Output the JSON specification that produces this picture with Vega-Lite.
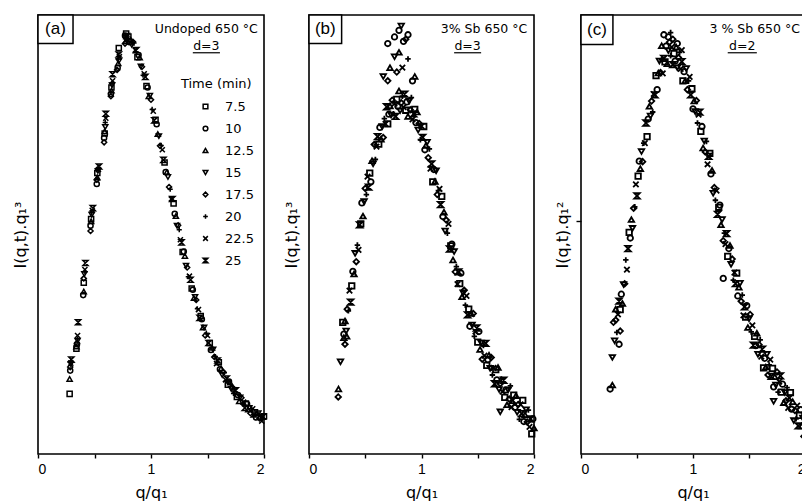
{
"$schema": "https://vega.github.io/schema/vega-lite/v6.json",
"background": "white",
"padding": {"left": 11, "top": 13, "right": 0, "bottom": 0},
"config": {
  "font": "Liberation Sans",
  "view": {"stroke": "black", "strokeWidth": 1.6},
  "concat": {"spacing": 11},
  "axis": {"grid": false, "domain": false, "tickColor": "black", "labelColor": "black", "titleColor": "black", "labelFont": "Liberation Sans", "titleFont": "DejaVu Sans", "titleFontWeight": "normal", "labelFontSize": 14, "titleFontSize": 16, "tickWidth": 1.4}
},
"datasets": {
"a": [
{"t":"7.5","q":0.28,"v":0.137},{"t":"10","q":0.285,"v":0.19},{"t":"12.5","q":0.28,"v":0.171},{"t":"15","q":0.29,"v":0.205},{"t":"17.5","q":0.285,"v":0.198},{"t":"20","q":0.29,"v":0.212},{"t":"22.5","q":0.29,"v":0.207},{"t":"25","q":0.295,"v":0.215},
{"t":"7.5","q":0.34,"v":0.24},{"t":"10","q":0.345,"v":0.25},{"t":"12.5","q":0.34,"v":0.245},{"t":"15","q":0.35,"v":0.258},{"t":"17.5","q":0.345,"v":0.252},{"t":"20","q":0.35,"v":0.262},{"t":"22.5","q":0.35,"v":0.27},{"t":"25","q":0.355,"v":0.3},
{"t":"7.5","q":0.405,"v":0.39},{"t":"10","q":0.4,"v":0.362},{"t":"12.5","q":0.405,"v":0.37},{"t":"15","q":0.41,"v":0.41},{"t":"17.5","q":0.405,"v":0.4},{"t":"20","q":0.415,"v":0.415},{"t":"22.5","q":0.415,"v":0.42},{"t":"25","q":0.42,"v":0.435},
{"t":"7.5","q":0.47,"v":0.535},{"t":"10","q":0.465,"v":0.52},{"t":"12.5","q":0.47,"v":0.53},{"t":"15","q":0.475,"v":0.545},{"t":"17.5","q":0.465,"v":0.508},{"t":"20","q":0.475,"v":0.55},{"t":"22.5","q":0.48,"v":0.555},{"t":"25","q":0.485,"v":0.56},
{"t":"7.5","q":0.525,"v":0.64},{"t":"10","q":0.52,"v":0.615},{"t":"12.5","q":0.525,"v":0.63},{"t":"15","q":0.53,"v":0.645},{"t":"17.5","q":0.52,"v":0.625},{"t":"20","q":0.53,"v":0.65},{"t":"22.5","q":0.535,"v":0.648},{"t":"25","q":0.54,"v":0.655},
{"t":"7.5","q":0.59,"v":0.73},{"t":"10","q":0.585,"v":0.72},{"t":"12.5","q":0.59,"v":0.735},{"t":"15","q":0.595,"v":0.745},{"t":"17.5","q":0.585,"v":0.71},{"t":"20","q":0.595,"v":0.755},{"t":"22.5","q":0.6,"v":0.765},{"t":"25","q":0.6,"v":0.775},
{"t":"7.5","q":0.65,"v":0.835},{"t":"10","q":0.645,"v":0.82},{"t":"12.5","q":0.65,"v":0.828},{"t":"15","q":0.655,"v":0.84},{"t":"17.5","q":0.645,"v":0.815},{"t":"20","q":0.655,"v":0.845},{"t":"22.5","q":0.66,"v":0.85},{"t":"25","q":0.66,"v":0.865},
{"t":"7.5","q":0.715,"v":0.925},{"t":"10","q":0.705,"v":0.88},{"t":"12.5","q":0.71,"v":0.89},{"t":"15","q":0.715,"v":0.895},{"t":"17.5","q":0.7,"v":0.875},{"t":"20","q":0.71,"v":0.9},{"t":"22.5","q":0.72,"v":0.905},{"t":"25","q":0.715,"v":0.91},
{"t":"7.5","q":0.78,"v":0.958},{"t":"10","q":0.77,"v":0.953},{"t":"12.5","q":0.775,"v":0.94},{"t":"15","q":0.78,"v":0.945},{"t":"17.5","q":0.77,"v":0.935},{"t":"20","q":0.775,"v":0.948},{"t":"22.5","q":0.78,"v":0.95},{"t":"25","q":0.785,"v":0.952},
{"t":"7.5","q":0.8,"v":0.951},{"t":"10","q":0.81,"v":0.938},{"t":"12.5","q":0.82,"v":0.944},{"t":"15","q":0.83,"v":0.932},{"t":"17.5","q":0.84,"v":0.939},{"t":"20","q":0.85,"v":0.936},{"t":"22.5","q":0.86,"v":0.92},{"t":"25","q":0.87,"v":0.92},
{"t":"7.5","q":0.88,"v":0.904},{"t":"10","q":0.89,"v":0.909},{"t":"12.5","q":0.9,"v":0.903},{"t":"15","q":0.91,"v":0.883},{"t":"17.5","q":0.92,"v":0.882},{"t":"20","q":0.93,"v":0.863},{"t":"22.5","q":0.94,"v":0.866},{"t":"25","q":0.95,"v":0.859},
{"t":"7.5","q":0.96,"v":0.838},{"t":"10","q":0.97,"v":0.835},{"t":"12.5","q":0.98,"v":0.815},{"t":"15","q":0.99,"v":0.816},{"t":"17.5","q":1.0,"v":0.807},{"t":"20","q":1.01,"v":0.785},{"t":"22.5","q":1.02,"v":0.781},{"t":"25","q":1.03,"v":0.76},
{"t":"7.5","q":1.04,"v":0.761},{"t":"10","q":1.05,"v":0.751},{"t":"12.5","q":1.06,"v":0.729},{"t":"15","q":1.07,"v":0.724},{"t":"17.5","q":1.08,"v":0.702},{"t":"20","q":1.09,"v":0.703},{"t":"22.5","q":1.1,"v":0.693},{"t":"25","q":1.11,"v":0.67},
{"t":"7.5","q":1.12,"v":0.664},{"t":"10","q":1.13,"v":0.642},{"t":"12.5","q":1.14,"v":0.642},{"t":"15","q":1.15,"v":0.631},{"t":"17.5","q":1.16,"v":0.608},{"t":"20","q":1.17,"v":0.603},{"t":"22.5","q":1.18,"v":0.581},{"t":"25","q":1.19,"v":0.581},
{"t":"7.5","q":1.2,"v":0.571},{"t":"10","q":1.21,"v":0.547},{"t":"12.5","q":1.22,"v":0.542},{"t":"15","q":1.23,"v":0.52},{"t":"17.5","q":1.24,"v":0.521},{"t":"20","q":1.25,"v":0.511},{"t":"22.5","q":1.26,"v":0.488},{"t":"25","q":1.27,"v":0.482},
{"t":"7.5","q":1.28,"v":0.46},{"t":"10","q":1.29,"v":0.461},{"t":"12.5","q":1.3,"v":0.451},{"t":"15","q":1.31,"v":0.429},{"t":"17.5","q":1.32,"v":0.425},{"t":"20","q":1.33,"v":0.404},{"t":"22.5","q":1.34,"v":0.405},{"t":"25","q":1.35,"v":0.397},
{"t":"7.5","q":1.36,"v":0.377},{"t":"10","q":1.37,"v":0.374},{"t":"12.5","q":1.38,"v":0.355},{"t":"15","q":1.39,"v":0.358},{"t":"17.5","q":1.4,"v":0.351},{"t":"20","q":1.41,"v":0.331},{"t":"22.5","q":1.42,"v":0.329},{"t":"25","q":1.43,"v":0.31},
{"t":"7.5","q":1.44,"v":0.314},{"t":"10","q":1.45,"v":0.307},{"t":"12.5","q":1.46,"v":0.288},{"t":"15","q":1.47,"v":0.288},{"t":"17.5","q":1.48,"v":0.27},{"t":"20","q":1.49,"v":0.275},{"t":"22.5","q":1.5,"v":0.27},{"t":"25","q":1.51,"v":0.253},
{"t":"7.5","q":1.52,"v":0.253},{"t":"10","q":1.53,"v":0.237},{"t":"12.5","q":1.54,"v":0.242},{"t":"15","q":1.55,"v":0.238},{"t":"17.5","q":1.56,"v":0.221},{"t":"20","q":1.57,"v":0.222},{"t":"22.5","q":1.58,"v":0.206},{"t":"25","q":1.59,"v":0.213},
{"t":"7.5","q":1.6,"v":0.209},{"t":"10","q":1.61,"v":0.193},{"t":"12.5","q":1.62,"v":0.195},{"t":"15","q":1.63,"v":0.18},{"t":"17.5","q":1.64,"v":0.187},{"t":"20","q":1.65,"v":0.185},{"t":"22.5","q":1.66,"v":0.169},{"t":"25","q":1.67,"v":0.172},
{"t":"7.5","q":1.68,"v":0.158},{"t":"10","q":1.69,"v":0.165},{"t":"12.5","q":1.7,"v":0.163},{"t":"15","q":1.71,"v":0.148},{"t":"17.5","q":1.72,"v":0.152},{"t":"20","q":1.73,"v":0.138},{"t":"22.5","q":1.74,"v":0.146},{"t":"25","q":1.75,"v":0.145},
{"t":"7.5","q":1.76,"v":0.13},{"t":"10","q":1.77,"v":0.134},{"t":"12.5","q":1.78,"v":0.12},{"t":"15","q":1.79,"v":0.129},{"t":"17.5","q":1.8,"v":0.128},{"t":"20","q":1.81,"v":0.114},{"t":"22.5","q":1.82,"v":0.118},{"t":"25","q":1.83,"v":0.105},
{"t":"7.5","q":1.84,"v":0.115},{"t":"10","q":1.85,"v":0.114},{"t":"12.5","q":1.86,"v":0.101},{"t":"15","q":1.87,"v":0.105},{"t":"17.5","q":1.88,"v":0.093},{"t":"20","q":1.89,"v":0.103},{"t":"22.5","q":1.9,"v":0.103},{"t":"25","q":1.91,"v":0.09},
{"t":"7.5","q":1.92,"v":0.095},{"t":"10","q":1.93,"v":0.083},{"t":"12.5","q":1.94,"v":0.093},{"t":"15","q":1.95,"v":0.093},{"t":"17.5","q":1.96,"v":0.081},{"t":"20","q":1.97,"v":0.086},{"t":"22.5","q":1.98,"v":0.075},{"t":"25","q":1.99,"v":0.085},
{"t":"7.5","q":2.0,"v":0.086}
],
"b": [
{"t":"17.5","q":0.26,"v":0.13},{"t":"12.5","q":0.262,"v":0.148},{"t":"15","q":0.28,"v":0.21},{"t":"17.5","q":0.32,"v":0.25},{"t":"12.5","q":0.31,"v":0.265},{"t":"12.5","q":0.335,"v":0.268},
{"t":"10","q":0.76,"v":0.95},{"t":"10","q":0.8,"v":0.965},{"t":"10","q":0.84,"v":0.94},{"t":"10","q":0.88,"v":0.955},{"t":"15","q":0.82,"v":0.975},{"t":"17.5","q":0.86,"v":0.945},{"t":"10","q":0.7,"v":0.935},
{"t":"12.5","q":0.72,"v":0.88},{"t":"15","q":0.66,"v":0.86},{"t":"17.5","q":0.78,"v":0.87},{"t":"12.5","q":0.94,"v":0.86},{"t":"20","q":0.88,"v":0.9},{"t":"15","q":0.76,"v":0.905},{"t":"17.5","q":0.7,"v":0.85},{"t":"10","q":0.92,"v":0.85},{"t":"22.5","q":0.83,"v":0.88},{"t":"12.5","q":0.8,"v":0.915},{"t":"15","q":1.7,"v":0.096},
{"t":"7.5","q":0.3,"v":0.3},{"t":"10","q":0.31,"v":0.273},{"t":"12.5","q":0.32,"v":0.303},{"t":"15","q":0.33,"v":0.28},{"t":"17.5","q":0.34,"v":0.33},{"t":"20","q":0.35,"v":0.326},{"t":"22.5","q":0.36,"v":0.372},{"t":"25","q":0.37,"v":0.346},
{"t":"7.5","q":0.38,"v":0.383},{"t":"10","q":0.39,"v":0.416},{"t":"12.5","q":0.4,"v":0.41},{"t":"15","q":0.41,"v":0.457},{"t":"17.5","q":0.42,"v":0.438},{"t":"20","q":0.43,"v":0.476},{"t":"22.5","q":0.44,"v":0.465},{"t":"25","q":0.45,"v":0.522},
{"t":"7.5","q":0.46,"v":0.524},{"t":"10","q":0.47,"v":0.572},{"t":"12.5","q":0.48,"v":0.542},{"t":"15","q":0.49,"v":0.575},{"t":"17.5","q":0.5,"v":0.605},{"t":"20","q":0.51,"v":0.591},{"t":"22.5","q":0.52,"v":0.632},{"t":"25","q":0.53,"v":0.608},
{"t":"7.5","q":0.54,"v":0.64},{"t":"10","q":0.55,"v":0.62},{"t":"12.5","q":0.56,"v":0.668},{"t":"15","q":0.57,"v":0.661},{"t":"17.5","q":0.58,"v":0.705},{"t":"20","q":0.59,"v":0.671},{"t":"22.5","q":0.6,"v":0.7},{"t":"25","q":0.61,"v":0.723},
{"t":"7.5","q":0.62,"v":0.706},{"t":"10","q":0.63,"v":0.744},{"t":"12.5","q":0.64,"v":0.717},{"t":"15","q":0.65,"v":0.746},{"t":"17.5","q":0.66,"v":0.721},{"t":"20","q":0.67,"v":0.764},{"t":"22.5","q":0.68,"v":0.752},{"t":"25","q":0.69,"v":0.791},
{"t":"7.5","q":0.7,"v":0.752},{"t":"10","q":0.71,"v":0.774},{"t":"12.5","q":0.72,"v":0.793},{"t":"15","q":0.73,"v":0.772},{"t":"17.5","q":0.74,"v":0.806},{"t":"20","q":0.75,"v":0.775},{"t":"22.5","q":0.76,"v":0.798},{"t":"25","q":0.77,"v":0.769},
{"t":"7.5","q":0.78,"v":0.808},{"t":"10","q":0.79,"v":0.792},{"t":"12.5","q":0.8,"v":0.827},{"t":"15","q":0.81,"v":0.782},{"t":"17.5","q":0.82,"v":0.8},{"t":"20","q":0.83,"v":0.815},{"t":"22.5","q":0.84,"v":0.79},{"t":"25","q":0.85,"v":0.82},
{"t":"7.5","q":0.86,"v":0.783},{"t":"10","q":0.87,"v":0.802},{"t":"12.5","q":0.88,"v":0.769},{"t":"15","q":0.89,"v":0.804},{"t":"17.5","q":0.9,"v":0.784},{"t":"20","q":0.91,"v":0.812},{"t":"22.5","q":0.92,"v":0.762},{"t":"25","q":0.93,"v":0.775},
{"t":"7.5","q":0.94,"v":0.785},{"t":"10","q":0.95,"v":0.755},{"t":"12.5","q":0.96,"v":0.779},{"t":"15","q":0.97,"v":0.738},{"t":"17.5","q":0.98,"v":0.753},{"t":"20","q":0.99,"v":0.716},{"t":"22.5","q":1.0,"v":0.747},{"t":"25","q":1.01,"v":0.721},
{"t":"7.5","q":1.02,"v":0.746},{"t":"10","q":1.03,"v":0.693},{"t":"12.5","q":1.04,"v":0.703},{"t":"15","q":1.05,"v":0.71},{"t":"17.5","q":1.06,"v":0.675},{"t":"20","q":1.07,"v":0.695},{"t":"22.5","q":1.08,"v":0.65},{"t":"25","q":1.09,"v":0.661},
{"t":"7.5","q":1.1,"v":0.62},{"t":"10","q":1.11,"v":0.648},{"t":"12.5","q":1.12,"v":0.621},{"t":"15","q":1.13,"v":0.645},{"t":"17.5","q":1.14,"v":0.591},{"t":"20","q":1.15,"v":0.6},{"t":"22.5","q":1.16,"v":0.604},{"t":"25","q":1.17,"v":0.568},
{"t":"7.5","q":1.18,"v":0.587},{"t":"10","q":1.19,"v":0.541},{"t":"12.5","q":1.2,"v":0.551},{"t":"15","q":1.21,"v":0.508},{"t":"17.5","q":1.22,"v":0.533},{"t":"20","q":1.23,"v":0.503},{"t":"22.5","q":1.24,"v":0.524},{"t":"25","q":1.25,"v":0.467},
{"t":"7.5","q":1.26,"v":0.474},{"t":"10","q":1.27,"v":0.478},{"t":"12.5","q":1.28,"v":0.442},{"t":"15","q":1.29,"v":0.461},{"t":"17.5","q":1.3,"v":0.415},{"t":"20","q":1.31,"v":0.427},{"t":"22.5","q":1.32,"v":0.387},{"t":"25","q":1.33,"v":0.415},
{"t":"7.5","q":1.34,"v":0.388},{"t":"10","q":1.35,"v":0.412},{"t":"12.5","q":1.36,"v":0.358},{"t":"15","q":1.37,"v":0.367},{"t":"17.5","q":1.38,"v":0.373},{"t":"20","q":1.39,"v":0.339},{"t":"22.5","q":1.4,"v":0.36},{"t":"25","q":1.41,"v":0.317},
{"t":"7.5","q":1.42,"v":0.33},{"t":"10","q":1.43,"v":0.291},{"t":"12.5","q":1.44,"v":0.32},{"t":"15","q":1.45,"v":0.294},{"t":"17.5","q":1.46,"v":0.32},{"t":"20","q":1.47,"v":0.268},{"t":"22.5","q":1.48,"v":0.279},{"t":"25","q":1.49,"v":0.287},
{"t":"7.5","q":1.5,"v":0.255},{"t":"10","q":1.51,"v":0.279},{"t":"12.5","q":1.52,"v":0.238},{"t":"15","q":1.53,"v":0.253},{"t":"17.5","q":1.54,"v":0.216},{"t":"20","q":1.55,"v":0.247},{"t":"22.5","q":1.56,"v":0.224},{"t":"25","q":1.57,"v":0.252},
{"t":"7.5","q":1.58,"v":0.202},{"t":"10","q":1.59,"v":0.215},{"t":"12.5","q":1.6,"v":0.225},{"t":"15","q":1.61,"v":0.195},{"t":"17.5","q":1.62,"v":0.22},{"t":"20","q":1.63,"v":0.18},{"t":"22.5","q":1.64,"v":0.196},{"t":"25","q":1.65,"v":0.16},
{"t":"7.5","q":1.66,"v":0.192},{"t":"10","q":1.67,"v":0.169},{"t":"12.5","q":1.68,"v":0.197},{"t":"15","q":1.69,"v":0.147},{"t":"17.5","q":1.7,"v":0.16},{"t":"20","q":1.71,"v":0.171},{"t":"22.5","q":1.72,"v":0.142},{"t":"25","q":1.73,"v":0.168},
{"t":"7.5","q":1.74,"v":0.129},{"t":"10","q":1.75,"v":0.146},{"t":"12.5","q":1.76,"v":0.112},{"t":"15","q":1.77,"v":0.146},{"t":"17.5","q":1.78,"v":0.125},{"t":"20","q":1.79,"v":0.155},{"t":"22.5","q":1.8,"v":0.107},{"t":"25","q":1.81,"v":0.122},
{"t":"7.5","q":1.82,"v":0.134},{"t":"10","q":1.83,"v":0.106},{"t":"12.5","q":1.84,"v":0.133},{"t":"15","q":1.85,"v":0.095},{"t":"17.5","q":1.86,"v":0.113},{"t":"20","q":1.87,"v":0.079},{"t":"22.5","q":1.88,"v":0.113},{"t":"25","q":1.89,"v":0.092},
{"t":"7.5","q":1.9,"v":0.122},{"t":"10","q":1.91,"v":0.074},{"t":"12.5","q":1.92,"v":0.089},{"t":"15","q":1.93,"v":0.101},{"t":"17.5","q":1.94,"v":0.073},{"t":"20","q":1.95,"v":0.1},{"t":"22.5","q":1.96,"v":0.062},{"t":"25","q":1.97,"v":0.08},
{"t":"7.5","q":1.98,"v":0.046},{"t":"10","q":1.99,"v":0.08},{"t":"12.5","q":2.0,"v":0.059}
],
"c": [
{"t":"10","q":0.26,"v":0.148},{"t":"12.5","q":0.28,"v":0.157},{"t":"15","q":0.28,"v":0.22},{"t":"10","q":0.34,"v":0.25},{"t":"17.5","q":0.29,"v":0.3},{"t":"12.5","q":0.31,"v":0.33},{"t":"17.5","q":0.35,"v":0.28},
{"t":"10","q":0.74,"v":0.955},{"t":"10","q":0.78,"v":0.95},{"t":"17.5","q":0.82,"v":0.945},{"t":"10","q":0.86,"v":0.935},{"t":"12.5","q":0.72,"v":0.93},{"t":"20","q":0.8,"v":0.96},{"t":"22.5","q":0.9,"v":0.92},{"t":"10","q":1.27,"v":0.4},{"t":"15","q":1.72,"v":0.12},
{"t":"15","q":0.3,"v":0.258},{"t":"17.5","q":0.31,"v":0.305},{"t":"20","q":0.32,"v":0.277},{"t":"22.5","q":0.33,"v":0.318},{"t":"25","q":0.34,"v":0.348},{"t":"7.5","q":0.35,"v":0.329},{"t":"10","q":0.36,"v":0.364},{"t":"12.5","q":0.37,"v":0.343},
{"t":"15","q":0.38,"v":0.386},{"t":"17.5","q":0.39,"v":0.388},{"t":"20","q":0.4,"v":0.442},{"t":"22.5","q":0.41,"v":0.42},{"t":"25","q":0.42,"v":0.468},{"t":"7.5","q":0.43,"v":0.505},{"t":"10","q":0.44,"v":0.492},{"t":"12.5","q":0.45,"v":0.534},
{"t":"15","q":0.46,"v":0.514},{"t":"17.5","q":0.47,"v":0.56},{"t":"20","q":0.48,"v":0.563},{"t":"22.5","q":0.49,"v":0.614},{"t":"25","q":0.5,"v":0.588},{"t":"7.5","q":0.51,"v":0.633},{"t":"10","q":0.52,"v":0.667},{"t":"12.5","q":0.53,"v":0.65},
{"t":"15","q":0.54,"v":0.689},{"t":"17.5","q":0.55,"v":0.666},{"t":"20","q":0.56,"v":0.708},{"t":"22.5","q":0.57,"v":0.708},{"t":"25","q":0.58,"v":0.754},{"t":"7.5","q":0.59,"v":0.723},{"t":"10","q":0.6,"v":0.763},{"t":"12.5","q":0.61,"v":0.792},
{"t":"15","q":0.62,"v":0.77},{"t":"17.5","q":0.63,"v":0.804},{"t":"20","q":0.64,"v":0.779},{"t":"22.5","q":0.65,"v":0.82},{"t":"25","q":0.66,"v":0.818},{"t":"7.5","q":0.67,"v":0.862},{"t":"10","q":0.68,"v":0.83},{"t":"12.5","q":0.69,"v":0.868},
{"t":"15","q":0.7,"v":0.895},{"t":"17.5","q":0.71,"v":0.869},{"t":"20","q":0.72,"v":0.898},{"t":"22.5","q":0.73,"v":0.867},{"t":"25","q":0.74,"v":0.901},{"t":"7.5","q":0.75,"v":0.893},{"t":"10","q":0.76,"v":0.929},{"t":"12.5","q":0.77,"v":0.889},
{"t":"15","q":0.78,"v":0.919},{"t":"17.5","q":0.79,"v":0.938},{"t":"20","q":0.8,"v":0.907},{"t":"22.5","q":0.81,"v":0.927},{"t":"25","q":0.82,"v":0.887},{"t":"7.5","q":0.83,"v":0.912},{"t":"10","q":0.84,"v":0.895},{"t":"12.5","q":0.85,"v":0.927},
{"t":"15","q":0.86,"v":0.88},{"t":"17.5","q":0.87,"v":0.903},{"t":"20","q":0.88,"v":0.915},{"t":"22.5","q":0.89,"v":0.877},{"t":"25","q":0.9,"v":0.894},{"t":"7.5","q":0.91,"v":0.85},{"t":"10","q":0.92,"v":0.871},{"t":"12.5","q":0.93,"v":0.85},
{"t":"15","q":0.94,"v":0.878},{"t":"17.5","q":0.95,"v":0.83},{"t":"20","q":0.96,"v":0.85},{"t":"22.5","q":0.97,"v":0.859},{"t":"25","q":0.98,"v":0.818},{"t":"7.5","q":0.99,"v":0.832},{"t":"10","q":1.0,"v":0.786},{"t":"12.5","q":1.01,"v":0.804},
{"t":"15","q":1.02,"v":0.78},{"t":"17.5","q":1.03,"v":0.805},{"t":"20","q":1.04,"v":0.754},{"t":"22.5","q":1.05,"v":0.773},{"t":"25","q":1.06,"v":0.779},{"t":"7.5","q":1.07,"v":0.735},{"t":"10","q":1.08,"v":0.746},{"t":"12.5","q":1.09,"v":0.697},
{"t":"15","q":1.1,"v":0.713},{"t":"17.5","q":1.11,"v":0.688},{"t":"20","q":1.12,"v":0.712},{"t":"22.5","q":1.13,"v":0.66},{"t":"25","q":1.14,"v":0.678},{"t":"7.5","q":1.15,"v":0.685},{"t":"10","q":1.16,"v":0.638},{"t":"12.5","q":1.17,"v":0.646},
{"t":"15","q":1.18,"v":0.594},{"t":"17.5","q":1.19,"v":0.607},{"t":"20","q":1.2,"v":0.578},{"t":"22.5","q":1.21,"v":0.6},{"t":"25","q":1.22,"v":0.546},{"t":"7.5","q":1.23,"v":0.562},{"t":"10","q":1.24,"v":0.567},{"t":"12.5","q":1.25,"v":0.522},
{"t":"15","q":1.26,"v":0.534},{"t":"17.5","q":1.27,"v":0.486},{"t":"20","q":1.28,"v":0.503},{"t":"22.5","q":1.29,"v":0.478},{"t":"25","q":1.3,"v":0.502},{"t":"7.5","q":1.31,"v":0.45},{"t":"10","q":1.32,"v":0.468},{"t":"12.5","q":1.33,"v":0.475},
{"t":"15","q":1.34,"v":0.432},{"t":"17.5","q":1.35,"v":0.444},{"t":"20","q":1.36,"v":0.396},{"t":"22.5","q":1.37,"v":0.413},{"t":"25","q":1.38,"v":0.388},{"t":"7.5","q":1.39,"v":0.412},{"t":"10","q":1.4,"v":0.36},{"t":"12.5","q":1.41,"v":0.38},
{"t":"15","q":1.42,"v":0.389},{"t":"17.5","q":1.43,"v":0.348},{"t":"20","q":1.44,"v":0.362},{"t":"22.5","q":1.45,"v":0.316},{"t":"25","q":1.46,"v":0.335},{"t":"7.5","q":1.47,"v":0.312},{"t":"10","q":1.48,"v":0.338},{"t":"12.5","q":1.49,"v":0.288},
{"t":"15","q":1.5,"v":0.308},{"t":"17.5","q":1.51,"v":0.318},{"t":"20","q":1.52,"v":0.278},{"t":"22.5","q":1.53,"v":0.293},{"t":"25","q":1.54,"v":0.248},{"t":"7.5","q":1.55,"v":0.268},{"t":"10","q":1.56,"v":0.247},{"t":"12.5","q":1.57,"v":0.275},
{"t":"15","q":1.58,"v":0.227},{"t":"17.5","q":1.59,"v":0.249},{"t":"20","q":1.6,"v":0.26},{"t":"22.5","q":1.61,"v":0.222},{"t":"25","q":1.62,"v":0.239},{"t":"7.5","q":1.63,"v":0.196},{"t":"10","q":1.64,"v":0.218},{"t":"12.5","q":1.65,"v":0.198},
{"t":"15","q":1.66,"v":0.227},{"t":"17.5","q":1.67,"v":0.18},{"t":"20","q":1.68,"v":0.203},{"t":"22.5","q":1.69,"v":0.215},{"t":"25","q":1.7,"v":0.177},{"t":"7.5","q":1.71,"v":0.195},{"t":"10","q":1.72,"v":0.153},{"t":"12.5","q":1.73,"v":0.176},
{"t":"15","q":1.74,"v":0.157},{"t":"17.5","q":1.75,"v":0.187},{"t":"20","q":1.76,"v":0.141},{"t":"22.5","q":1.77,"v":0.165},{"t":"25","q":1.78,"v":0.178},{"t":"7.5","q":1.79,"v":0.141},{"t":"10","q":1.8,"v":0.159},{"t":"12.5","q":1.81,"v":0.117},
{"t":"15","q":1.82,"v":0.14},{"t":"17.5","q":1.83,"v":0.121},{"t":"20","q":1.84,"v":0.151},{"t":"22.5","q":1.85,"v":0.105},{"t":"25","q":1.86,"v":0.128},{"t":"7.5","q":1.87,"v":0.14},{"t":"10","q":1.88,"v":0.102},{"t":"12.5","q":1.89,"v":0.119},
{"t":"15","q":1.9,"v":0.076},{"t":"17.5","q":1.91,"v":0.099},{"t":"20","q":1.92,"v":0.08},{"t":"22.5","q":1.93,"v":0.11},{"t":"25","q":1.94,"v":0.064},{"t":"7.5","q":1.95,"v":0.088},{"t":"10","q":1.96,"v":0.101},{"t":"12.5","q":1.97,"v":0.064},
{"t":"15","q":1.98,"v":0.082},{"t":"17.5","q":1.99,"v":0.04},{"t":"20","q":2.0,"v":0.063}
]
},
"resolve": {"scale": {"shape": "independent"}},
"hconcat": [
{
 "width": 226, "height": 439,
 "layer": [
  {"data": {"name": "a"},
   "mark": {"type": "point", "filled": false, "color": "black", "strokeWidth": 1.5, "size": 26, "opacity": 1},
   "encoding": {
    "x": {"field": "q", "type": "quantitative", "scale": {"domain": [0, 2], "nice": false}, "axis": {"title": "q/q₁", "values": [0, 0.5, 1, 1.5, 2], "format": "~g", "labelExpr": "datum.value % 1 === 0 ? datum.label : ''", "tickSize": 4, "labelPadding": 4, "titlePadding": 8}},
    "y": {"field": "v", "type": "quantitative", "scale": {"domain": [0, 1], "nice": false}, "axis": {"title": "I(q,t).q₁³", "labels": false, "ticks": false, "titlePadding": 10}},
    "shape": {"field": "t", "type": "nominal",
      "scale": {"domain": ["7.5","10","12.5","15","17.5","20","22.5","25"], "range": ["square","circle","triangle-up","triangle-down","diamond","M-1,0L1,0M0,-1L0,1","M-1,-1L1,1M-1,1L1,-1","M-1,-1L1,-1L-1,1L1,1Z"]},
      "legend": {"title": null, "orient": "none", "legendX": 161, "legendY": 85, "labelFont": "DejaVu Sans", "labelFontSize": 13, "labelColor": "black", "labelOffset": 13, "rowPadding": 8, "symbolStrokeColor": "black", "symbolStrokeWidth": 1.5, "symbolSize": 22}}
   }},
  {"data": {"values": [{}]}, "mark": {"type": "rect", "fill": "white", "stroke": "black", "strokeWidth": 1.5}, "encoding": {"x": {"datum": 0}, "x2": {"datum": 0.31}, "y": {"datum": 0.935}, "y2": {"datum": 1}}},
  {"data": {"values": [{}]}, "mark": {"type": "text", "font": "Liberation Sans", "fontSize": 17, "align": "center", "baseline": "middle", "color": "black"}, "encoding": {"x": {"datum": 0.155}, "y": {"datum": 0.967}, "text": {"value": "(a)"}}},
  {"data": {"values": [{}]}, "mark": {"type": "text", "font": "DejaVu Sans", "fontSize": 12.5, "align": "right", "baseline": "middle", "color": "black"}, "encoding": {"x": {"datum": 1.945}, "y": {"datum": 0.968}, "text": {"value": "Undoped 650 °C"}}},
  {"data": {"values": [{}]}, "mark": {"type": "text", "font": "DejaVu Sans", "fontSize": 12.5, "align": "center", "baseline": "middle", "color": "black"}, "encoding": {"x": {"datum": 1.49}, "y": {"datum": 0.929}, "text": {"value": "d=3"}}},
  {"data": {"values": [{}]}, "mark": {"type": "rule", "color": "black", "strokeWidth": 1.2}, "encoding": {"x": {"datum": 1.37}, "x2": {"datum": 1.61}, "y": {"datum": 0.914}}},
  {"data": {"values": [{}]}, "mark": {"type": "text", "font": "DejaVu Sans", "fontSize": 13, "align": "left", "baseline": "middle", "color": "black"}, "encoding": {"x": {"datum": 1.265}, "y": {"datum": 0.842}, "text": {"value": "Time (min)"}}}
 ]
},
{
 "width": 225, "height": 439,
 "layer": [
  {"data": {"name": "b"},
   "mark": {"type": "point", "filled": false, "color": "black", "strokeWidth": 1.8, "size": 30, "opacity": 1},
   "encoding": {
    "x": {"field": "q", "type": "quantitative", "scale": {"domain": [0, 2], "nice": false}, "axis": {"title": "q/q₁", "values": [0, 0.5, 1, 1.5, 2], "format": "~g", "labelExpr": "datum.value % 1 === 0 ? datum.label : ''", "tickSize": 4, "labelPadding": 4, "titlePadding": 8}},
    "y": {"field": "v", "type": "quantitative", "scale": {"domain": [0, 1], "nice": false}, "axis": {"title": "I(q,t).q₁³", "labels": false, "ticks": false, "titlePadding": 10}},
    "shape": {"field": "t", "type": "nominal",
      "scale": {"domain": ["7.5","10","12.5","15","17.5","20","22.5","25"], "range": ["square","circle","triangle-up","triangle-down","diamond","M-1,0L1,0M0,-1L0,1","M-1,-1L1,1M-1,1L1,-1","M-1,-1L1,-1L-1,1L1,1Z"]},
      "legend": null}
   }},
  {"data": {"values": [{}]}, "mark": {"type": "rect", "fill": "white", "stroke": "black", "strokeWidth": 1.5}, "encoding": {"x": {"datum": 0}, "x2": {"datum": 0.29}, "y": {"datum": 0.935}, "y2": {"datum": 1}}},
  {"data": {"values": [{}]}, "mark": {"type": "text", "font": "Liberation Sans", "fontSize": 17, "align": "center", "baseline": "middle", "color": "black"}, "encoding": {"x": {"datum": 0.145}, "y": {"datum": 0.967}, "text": {"value": "(b)"}}},
  {"data": {"values": [{}]}, "mark": {"type": "text", "font": "DejaVu Sans", "fontSize": 12.5, "align": "right", "baseline": "middle", "color": "black"}, "encoding": {"x": {"datum": 1.94}, "y": {"datum": 0.968}, "text": {"value": "3%  Sb 650 °C"}}},
  {"data": {"values": [{}]}, "mark": {"type": "text", "font": "DejaVu Sans", "fontSize": 12.5, "align": "center", "baseline": "middle", "color": "black"}, "encoding": {"x": {"datum": 1.41}, "y": {"datum": 0.929}, "text": {"value": "d=3"}}},
  {"data": {"values": [{}]}, "mark": {"type": "rule", "color": "black", "strokeWidth": 1.2}, "encoding": {"x": {"datum": 1.29}, "x2": {"datum": 1.53}, "y": {"datum": 0.914}}}
 ]
},
{
 "width": 224, "height": 439,
 "layer": [
  {"data": {"name": "c"},
   "mark": {"type": "point", "filled": false, "color": "black", "strokeWidth": 1.8, "size": 30, "opacity": 1},
   "encoding": {
    "x": {"field": "q", "type": "quantitative", "scale": {"domain": [0, 2], "nice": false}, "axis": {"title": "q/q₁", "values": [0, 0.5, 1, 1.5, 2], "format": "~g", "labelExpr": "datum.value % 1 === 0 ? datum.label : ''", "tickSize": 4, "labelPadding": 4, "titlePadding": 8}},
    "y": {"field": "v", "type": "quantitative", "scale": {"domain": [0, 1], "nice": false}, "axis": {"title": "I(q,t).q₁²", "labels": false, "ticks": true, "tickSize": 5, "values": [0.531], "titlePadding": 5}},
    "shape": {"field": "t", "type": "nominal",
      "scale": {"domain": ["7.5","10","12.5","15","17.5","20","22.5","25"], "range": ["square","circle","triangle-up","triangle-down","diamond","M-1,0L1,0M0,-1L0,1","M-1,-1L1,1M-1,1L1,-1","M-1,-1L1,-1L-1,1L1,1Z"]},
      "legend": null}
   }},
  {"data": {"values": [{}]}, "mark": {"type": "rect", "fill": "white", "stroke": "black", "strokeWidth": 1.5}, "encoding": {"x": {"datum": 0}, "x2": {"datum": 0.285}, "y": {"datum": 0.933}, "y2": {"datum": 1}}},
  {"data": {"values": [{}]}, "mark": {"type": "text", "font": "Liberation Sans", "fontSize": 17, "align": "center", "baseline": "middle", "color": "black"}, "encoding": {"x": {"datum": 0.143}, "y": {"datum": 0.966}, "text": {"value": "(c)"}}},
  {"data": {"values": [{}]}, "mark": {"type": "text", "font": "DejaVu Sans", "fontSize": 12.5, "align": "right", "baseline": "middle", "color": "black"}, "encoding": {"x": {"datum": 1.955}, "y": {"datum": 0.968}, "text": {"value": "3 %  Sb 650 °C"}}},
  {"data": {"values": [{}]}, "mark": {"type": "text", "font": "DejaVu Sans", "fontSize": 12.5, "align": "center", "baseline": "middle", "color": "black"}, "encoding": {"x": {"datum": 1.44}, "y": {"datum": 0.929}, "text": {"value": "d=2"}}},
  {"data": {"values": [{}]}, "mark": {"type": "rule", "color": "black", "strokeWidth": 1.2}, "encoding": {"x": {"datum": 1.31}, "x2": {"datum": 1.57}, "y": {"datum": 0.914}}}
 ]
}
]
}
